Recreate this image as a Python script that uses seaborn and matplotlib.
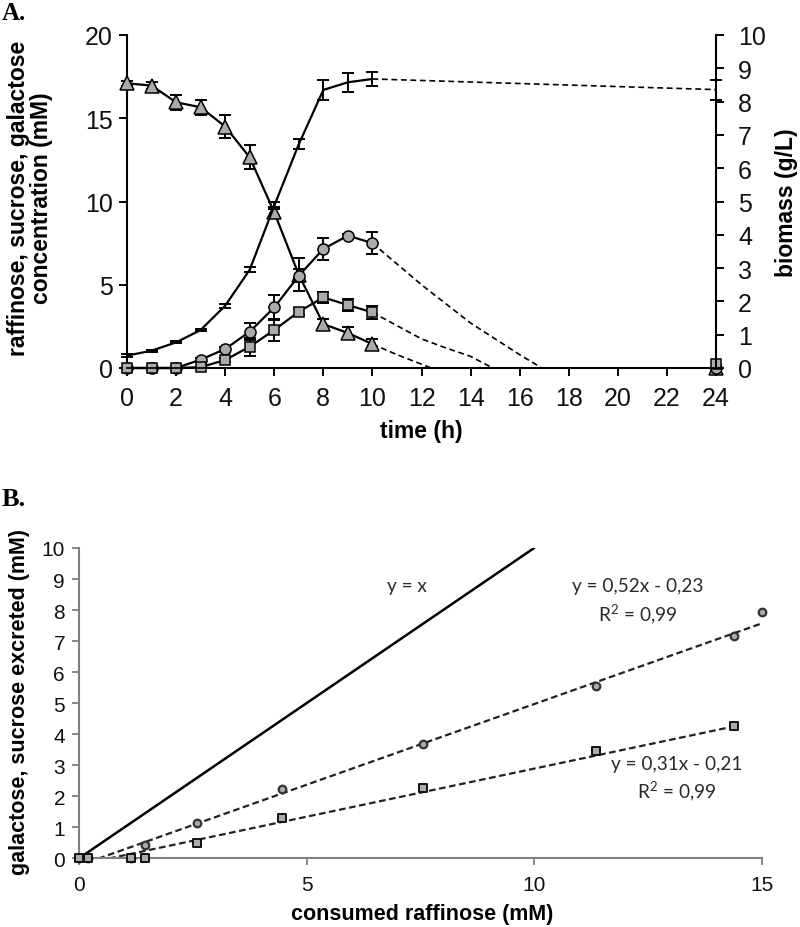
import numpy as np
import pandas as pd
import matplotlib
matplotlib.use("Agg")
import matplotlib.pyplot as plt
import seaborn as sns

# ---------------- Panel A data ----------------
time_h = [0, 1, 2, 3, 4, 5, 6, 7, 8, 9, 10]
raffinose = [17.1, 16.96, 15.96, 15.66, 14.5, 12.65, 9.35, 5.6, 2.64, 2.1, 1.44]
raffinose_err = [0.15, 0.2, 0.45, 0.45, 0.68, 0.72, 0.3, 1.0, 0.3, 0.34, 0.28]
sucrose = [0.0, 0.0, 0.0, 0.05, 0.48, 1.28, 2.28, 3.38, 4.24, 3.78, 3.34]
sucrose_err = [0.0, 0.0, 0.0, 0.0, 0.1, 0.55, 0.65, 0.2, 0.32, 0.35, 0.4]
galactose = [0.0, 0.0, 0.0, 0.5, 1.14, 2.18, 3.64, 5.54, 7.15, 7.95, 7.5]
galactose_err = [0.0, 0.0, 0.0, 0.1, 0.15, 0.5, 0.76, 0.4, 0.65, 0.1, 0.65]
biomass = [0.37, 0.52, 0.77, 1.14, 1.87, 2.95, 4.87, 6.72, 8.35, 8.58, 8.68]
biomass_err = [0.05, 0.03, 0.03, 0.03, 0.06, 0.08, 0.1, 0.15, 0.3, 0.28, 0.21]

# dashed extensions
raff_ext_t = [10, 11, 12.4]
raff_ext = [1.44, 0.8, 0.0]
suc_ext_t = [10, 12, 13, 14, 14.9]
suc_ext = [3.34, 1.75, 1.2, 0.7, 0.0]
gal_ext_t = [10, 12, 14, 16, 16.9]
gal_ext = [7.5, 5.0, 2.7, 0.8, 0.0]
bio_ext_t = [10, 24]
bio_ext = [8.68, 8.36]

# 24 h points
t_end = [24]
raffinose_24 = [0.0]
galactose_24 = [0.0]
sucrose_24 = [0.26]
biomass_24 = [8.36]
biomass_24_err = [0.3]

xticks_A = list(range(0, 25, 2))
yticks_A = [0, 5, 10, 15, 20]
yticks_A2 = list(range(0, 11))

# ---------------- Panel B data ----------------
cons_raff_gal = [0, 0.19, 1.15, 1.45, 2.6, 4.45, 7.55, 11.36, 14.4, 15.0]
gal_excreted = [0, 0, 0, 0.43, 1.14, 2.24, 3.68, 5.55, 7.17, 7.93]
cons_raff_suc = [0, 0.19, 1.15, 1.45, 2.6, 4.45, 7.55, 11.36, 14.4]
suc_excreted = [0, 0, 0, 0, 0.48, 1.3, 2.27, 3.45, 4.26]
gal_fit = (0.52, -0.23)
suc_fit = (0.31, -0.21)
gal_fit_x = [0, 15.0]
suc_fit_x = [0, 14.4]
identity_x = [0, 10]

# ---------------- style ----------------
sns.set_theme(style="ticks")
plt.rcParams['font.family'] = ['Liberation Sans', 'DejaVu Sans']
plt.rcParams['axes.edgecolor'] = 'black'
plt.rcParams['text.color'] = 'black'
plt.rcParams['xtick.color'] = 'black'
plt.rcParams['ytick.color'] = 'black'
plt.rcParams['mathtext.fontset'] = 'custom'
plt.rcParams['mathtext.rm'] = 'Lato'
plt.rcParams['mathtext.it'] = 'Lato:italic'
plt.rcParams['mathtext.bf'] = 'Lato:bold'

GREY = '#ababab'

fig = plt.figure(figsize=(8, 9.28), dpi=100)

# ================= Panel A =================
axA = fig.add_axes([127/800, 1-369/928, (716-127)/800, (369-36)/928])
axA2 = axA.twinx()

dash_A = (0, (3.5, 2.2))

for y, e in [(raffinose, raffinose_err), (galactose, galactose_err), (sucrose, sucrose_err)]:
    axA.errorbar(time_h, y, yerr=e, fmt='none', ecolor='black', elinewidth=1.4,
                 capsize=4.5, capthick=1.4, zorder=2, clip_on=False)

sns.lineplot(x=raff_ext_t, y=raff_ext, ax=axA, color='black', lw=1.2, linestyle=dash_A, zorder=2)
sns.lineplot(x=suc_ext_t, y=suc_ext, ax=axA, color='black', lw=1.2, linestyle=dash_A, zorder=2)
sns.lineplot(x=gal_ext_t, y=gal_ext, ax=axA, color='black', lw=1.2, linestyle=dash_A, zorder=2)

sns.lineplot(x=time_h, y=raffinose, ax=axA, color='black', lw=1.6, marker='^', markersize=9.5,
             markerfacecolor=GREY, markeredgecolor='black', markeredgewidth=1.1, zorder=3, clip_on=False)
sns.lineplot(x=time_h, y=galactose, ax=axA, color='black', lw=1.6, marker='o', markersize=8,
             markerfacecolor=GREY, markeredgecolor='black', markeredgewidth=1.1, zorder=3, clip_on=False)
sns.lineplot(x=time_h, y=sucrose, ax=axA, color='black', lw=1.6, marker='s', markersize=7.5,
             markerfacecolor=GREY, markeredgecolor='black', markeredgewidth=1.1, zorder=3, clip_on=False)

sns.lineplot(x=t_end, y=raffinose_24, ax=axA, marker='^', markersize=9.5, color='black', lw=0,
             markerfacecolor=GREY, markeredgecolor='black', markeredgewidth=1.1, zorder=3, clip_on=False)
sns.lineplot(x=t_end, y=galactose_24, ax=axA, marker='o', markersize=8, color='black', lw=0,
             markerfacecolor=GREY, markeredgecolor='black', markeredgewidth=1.1, zorder=3, clip_on=False)
sns.lineplot(x=t_end, y=sucrose_24, ax=axA, marker='s', markersize=7.5, color='black', lw=0,
             markerfacecolor=GREY, markeredgecolor='black', markeredgewidth=1.1, zorder=4, clip_on=False)

axA2.errorbar(time_h, biomass, yerr=biomass_err, fmt='none', ecolor='black', elinewidth=1.4,
              capsize=4.5, capthick=1.4, zorder=2, clip_on=False)
axA2.errorbar(t_end, biomass_24, yerr=biomass_24_err, fmt='none', ecolor='black', elinewidth=1.4,
              capsize=4.5, capthick=1.4, zorder=2, clip_on=False)
sns.lineplot(x=time_h, y=biomass, ax=axA2, color='black', lw=1.6, zorder=3)
sns.lineplot(x=bio_ext_t, y=bio_ext, ax=axA2, color='black', lw=1.2, linestyle=dash_A, zorder=3)

axA.set_xlim(0, 24)
axA.set_ylim(0, 20)
axA2.set_ylim(0, 10)
axA.set_xticks(xticks_A)
axA.set_yticks(yticks_A)
axA2.set_yticks(yticks_A2)
axA.set_xlabel('')
axA.set_ylabel('')
axA2.set_ylabel('')

axA.spines['top'].set_visible(False)
axA2.spines['top'].set_visible(False)
axA2.spines['left'].set_visible(False)
axA.spines['right'].set_visible(False)
for ax_, sps in [(axA, ['left', 'bottom']), (axA2, ['right'])]:
    for sp in sps:
        ax_.spines[sp].set_linewidth(1.5)
        ax_.spines[sp].set_color('black')

axA.tick_params(axis='x', direction='out', length=6, width=1.4, labelsize=18, pad=7)
axA.tick_params(axis='y', direction='out', length=6, width=1.4, labelsize=18, pad=4)
axA2.tick_params(axis='y', direction='out', length=6, width=1.4, labelsize=18, pad=10,
                 right=True, left=False)
for lab in axA.get_xticklabels() + axA.get_yticklabels() + axA2.get_yticklabels():
    lab.set_color('#111111')

fig.text(30/800, 1-198/928, 'raffinose, sucrose, galactose\nconcentration (mM)', rotation=90,
         ha='center', va='center', fontsize=16.5, fontweight='bold', linespacing=1.05)
fig.text(421/800, 1-432/928, 'time (h)', ha='center', va='center', fontsize=16.5, fontweight='bold')
fig.text(787/800, 1-203/928, 'biomass (g/L)', rotation=90, ha='center', va='center',
         fontsize=16.5, fontweight='bold')
fig.text(2/800, 1-14/928, 'A.', ha='left', va='center', fontsize=18, fontweight='bold',
         family=['Liberation Serif', 'DejaVu Serif'])

# ================= Panel B =================
axB = fig.add_axes([79/800, 1-859.3/928, (761.7-79)/800, (859.3-549)/928])

dash_B = (0, (3, 1.6))
gx = np.array(gal_fit_x)
sx = np.array(suc_fit_x)
sns.lineplot(x=identity_x, y=identity_x, ax=axB, color='black', lw=1.8, zorder=2)
sns.lineplot(x=gx, y=gal_fit[0] * gx + gal_fit[1], ax=axB, color='#222222', lw=1.6,
             linestyle=dash_B, zorder=2)
sns.lineplot(x=sx, y=suc_fit[0] * sx + suc_fit[1], ax=axB, color='#222222', lw=1.6,
             linestyle=dash_B, zorder=2)

sns.scatterplot(x=cons_raff_gal, y=gal_excreted, ax=axB, marker='o', s=30, color=GREY,
                edgecolor='#333333', linewidth=1.6, zorder=3, clip_on=False)
sns.scatterplot(x=cons_raff_suc, y=suc_excreted, ax=axB, marker='s', s=38, color=GREY,
                edgecolor='#111111', linewidth=1.4, zorder=4, clip_on=False)

axB.set_xlim(0, 15)
axB.set_ylim(0, 10)
axB.set_xticks([0, 5, 10, 15])
axB.set_yticks(list(range(0, 11)))
axB.spines['top'].set_visible(False)
axB.spines['right'].set_visible(False)
for sp in ['left', 'bottom']:
    axB.spines[sp].set_color('#7f7f7f')
    axB.spines[sp].set_linewidth(1.5)
axB.tick_params(axis='both', direction='out', length=5, width=1.3, color='#7f7f7f',
                labelsize=15, labelcolor='#111111')
axB.tick_params(axis='y', pad=5)
axB.tick_params(axis='x', pad=7)
axB.set_xlabel('')
axB.set_ylabel('')

ann_font = ['Lato', 'DejaVu Sans']
ann_col = '#2a2a2a'
ann_size = 13.7
r2_text = r'R$^{\mathregular{2}}$ = 0,99'
axB.text(6.77, 8.78, 'y = x', ha='left', va='center', fontsize=ann_size, color=ann_col, family=ann_font)
axB.text(12.27, 8.78, 'y = 0,52x - 0,23', ha='center', va='center', fontsize=ann_size,
         color=ann_col, family=ann_font)
axB.text(12.27, 7.9, r2_text, ha='center', va='center', fontsize=ann_size,
         color=ann_col, family=ann_font)
axB.text(13.13, 3.04, 'y = 0,31x - 0,21', ha='center', va='center', fontsize=ann_size,
         color=ann_col, family=ann_font)
axB.text(13.13, 2.18, r2_text, ha='center', va='center', fontsize=ann_size,
         color=ann_col, family=ann_font)

fig.text(20/800, 1-702/928, 'galactose, sucrose excreted (mM)', rotation=90, ha='center',
         va='center', fontsize=15.5, fontweight='bold')
fig.text(422/800, 1-915/928, 'consumed raffinose (mM)', ha='center', va='center',
         fontsize=15.5, fontweight='bold')
fig.text(2/800, 1-500/928, 'B.', ha='left', va='center', fontsize=19, fontweight='bold',
         family=['Liberation Serif', 'DejaVu Serif'])

fig.savefig('out.png', dpi=100)
